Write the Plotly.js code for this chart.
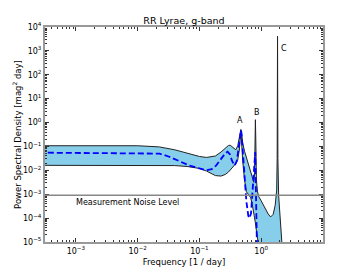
<!DOCTYPE html>
<html>
<head>
<meta charset="utf-8">
<script src="https://cdn.plot.ly/plotly-3.0.1.min.js"></script>
<style>html,body{margin:0;padding:0;background:#fff;}#chart{width:360px;height:270px;}</style>
</head>
<body>
<div id="chart"></div>
<script>
// Frequency grid of the shaded band [1/day]
const freqBand = [0.000251, 0.00316, 0.01, 0.0224, 0.0398, 0.0631, 0.1, 0.130, 0.158, 0.181,
  0.224, 0.263, 0.295, 0.316, 0.353, 0.388, 0.417, 0.442, 0.458, 0.468,
  0.479, 0.501, 0.537, 0.575, 0.617, 0.676, 0.724, 0.759, 0.780, 0.794,
  0.805, 0.817, 0.836, 0.871, 0.912, 1.0, 1.161, 1.297, 1.422, 1.563,
  1.683, 1.778, 1.811, 1.837, 1.862, 1.914, 2.023, 2.138, 2.291];
// Upper edge of the band [mag^2 day]
const psdUpper = [0.107, 0.107, 0.107, 0.0955, 0.0724, 0.0525, 0.038, 0.0347, 0.0363, 0.0398,
  0.0589, 0.0891, 0.110, 0.112, 0.0912, 0.0724, 0.107, 0.240, 0.437, 0.513,
  0.398, 0.141, 0.0631, 0.0355, 0.0158, 0.00759, 0.00447, 0.00316, 0.00794, 0.251,
  1.318, 0.2, 0.00398, 0.00126, 0.000794, 0.000525, 0.000251, 0.000148, 0.000112, 0.000145,
  0.000347, 0.00148, 0.0316, 4074, 0.0316, 0.000891, 6.76e-5, 1e-5, 1e-6];
// Lower edge of the band [mag^2 day]
const psdLower = [0.0162, 0.0162, 0.0162, 0.0162, 0.0158, 0.0145, 0.012, 0.00933, 0.00708, 0.00603,
  0.00575, 0.00676, 0.00851, 0.0105, 0.0138, 0.0191, 0.0282, 0.0708, 0.209, 0.355,
  0.2, 0.0251, 0.00398, 0.00126, 0.001, 0.000708, 0.000316, 0.000178, 0.000112, 7.94e-5,
  6.31e-5, 4.47e-5, 2.82e-5, 1.41e-5, 5.0e-6, 1e-6, 1e-7, 1e-7, 1e-7, 1e-7,
  1e-7, 1e-7, 1e-7, 1e-7, 1e-7, 1e-7, 1e-7, 1e-7, 1e-7];
// Dashed curve
const freqMean = [0.000251, 0.0158, 0.0226, 0.0316, 0.0479, 0.0692, 0.1, 0.129, 0.158, 0.186,
  0.224, 0.263, 0.285, 0.309, 0.339, 0.372, 0.403, 0.427, 0.447, 0.462,
  0.471, 0.481, 0.501, 0.537, 0.575, 0.617, 0.646, 0.684, 0.724, 0.759,
  0.785, 0.800, 0.813, 0.822, 0.832, 0.841, 0.871];
const psdMean = [0.055, 0.0537, 0.0501, 0.038, 0.0234, 0.0158, 0.012, 0.0102, 0.0112, 0.0158,
  0.0302, 0.0525, 0.0603, 0.0479, 0.024, 0.0158, 0.0251, 0.0794, 0.251, 0.447,
  0.479, 0.316, 0.0631, 0.00501, 0.000501, 0.000126, 0.0001, 0.000158, 0.001, 0.00631,
  0.0316, 0.0589, 0.00501, 0.000398, 5.01e-5, 6.31e-6, 3.16e-7];
const noiseLevel = 9.1e-4;
const peakLabels = ['A', 'B', 'C'];
const peakLabelFreq = [0.458, 0.861, 2.35];
const peakLabelPsd = [1.24, 2.7, 1290];
const xTickVals = [1e-3, 1e-2, 1e-1, 1];
const xTickText = ['10<sup>−3</sup>', '10<sup>−2</sup>', '10<sup>−1</sup>', '10<sup>0</sup>'];
const yTickVals = [1e-5, 1e-4, 1e-3, 1e-2, 1e-1, 1, 1e1, 1e2, 1e3, 1e4];
const yTickText = ['10<sup>−5</sup>', '10<sup>−4</sup>', '10<sup>−3</sup>', '10<sup>−2</sup>', '10<sup>−1</sup>',
  '10<sup>0</sup>', '10<sup>1</sup>', '10<sup>2</sup>', '10<sup>3</sup>', '10<sup>4</sup>'];

function minorTicks(lo, hi) {
  const v = [];
  for (let e = lo; e < hi; e++) for (let m = 2; m <= 9; m++) v.push(m * Math.pow(10, e));
  return v;
}

const FONT = 'DejaVu Sans, Arial, sans-serif';
const traces = [
  {x: freqBand, y: psdLower, type: 'scatter', mode: 'lines', line: {color: '#222', width: 1}, hoverinfo: 'skip'},
  {x: freqBand, y: psdUpper, type: 'scatter', mode: 'lines', fill: 'tonexty', fillcolor: '#87CEEB',
   line: {color: '#222', width: 1}, hoverinfo: 'skip'},
  {x: freqMean, y: psdMean, type: 'scatter', mode: 'lines', line: {color: '#0000ff', width: 1.8, dash: '6px,3px'}, hoverinfo: 'skip'}
];

const axisCommon = {
  type: 'log', showgrid: false, zeroline: false, showline: true, linecolor: '#999', linewidth: 2,
  mirror: 'allticks', ticks: 'inside', ticklen: 4, tickwidth: 1, tickcolor: '#333',
  tickmode: 'array', tickfont: {family: FONT, size: 8, color: '#000'}
};

const annotations = peakLabels.map((t, i) => ({
  x: Math.log10(peakLabelFreq[i]), y: Math.log10(peakLabelPsd[i]), xref: 'x', yref: 'y',
  text: t, showarrow: false, font: {family: FONT, size: 8, color: '#000'}
}));
annotations.push({x: Math.log10(0.00093), y: Math.log10(4.5e-4), xref: 'x', yref: 'y', xanchor: 'left',
  text: 'Measurement Noise Level', showarrow: false, font: {family: FONT, size: 8, color: '#000'}});

const layout = {
  width: 360, height: 270, margin: {l: 45, r: 37, t: 27, b: 28},
  paper_bgcolor: '#fff', plot_bgcolor: '#fff', showlegend: false,
  title: {text: 'RR Lyrae, g-band', font: {family: FONT, size: 9.5, color: '#000'}, x: 0.511, xanchor: 'center', y: 0.925, yanchor: 'middle'},
  xaxis: Object.assign({}, axisCommon, {
    range: [-3.5, 1.0], tickvals: xTickVals, ticktext: xTickText,
    minor: {tickmode: 'array', tickvals: minorTicks(-4, 1), ticks: 'inside', ticklen: 2, tickcolor: '#333'},
    title: {text: 'Frequency [1 / day]', font: {family: FONT, size: 8.5, color: '#000'}, standoff: 4}
  }),
  yaxis: Object.assign({}, axisCommon, {
    range: [-5, 4], tickvals: yTickVals, ticktext: yTickText,
    minor: {tickmode: 'array', tickvals: minorTicks(-5, 4), ticks: 'inside', ticklen: 2, tickcolor: '#333'},
    title: {text: 'Power Spectral Density [mag<sup>2</sup> day]', font: {family: FONT, size: 8.5, color: '#000'}, standoff: 0}
  }),
  shapes: [{type: 'line', xref: 'paper', x0: 0, x1: 1, yref: 'y', y0: noiseLevel, y1: noiseLevel,
    line: {color: '#888', width: 1.5}, layer: 'above'}],
  annotations: annotations
};

Plotly.newPlot('chart', traces, layout, {displayModeBar: false, staticPlot: true});
</script>
</body>
</html>
